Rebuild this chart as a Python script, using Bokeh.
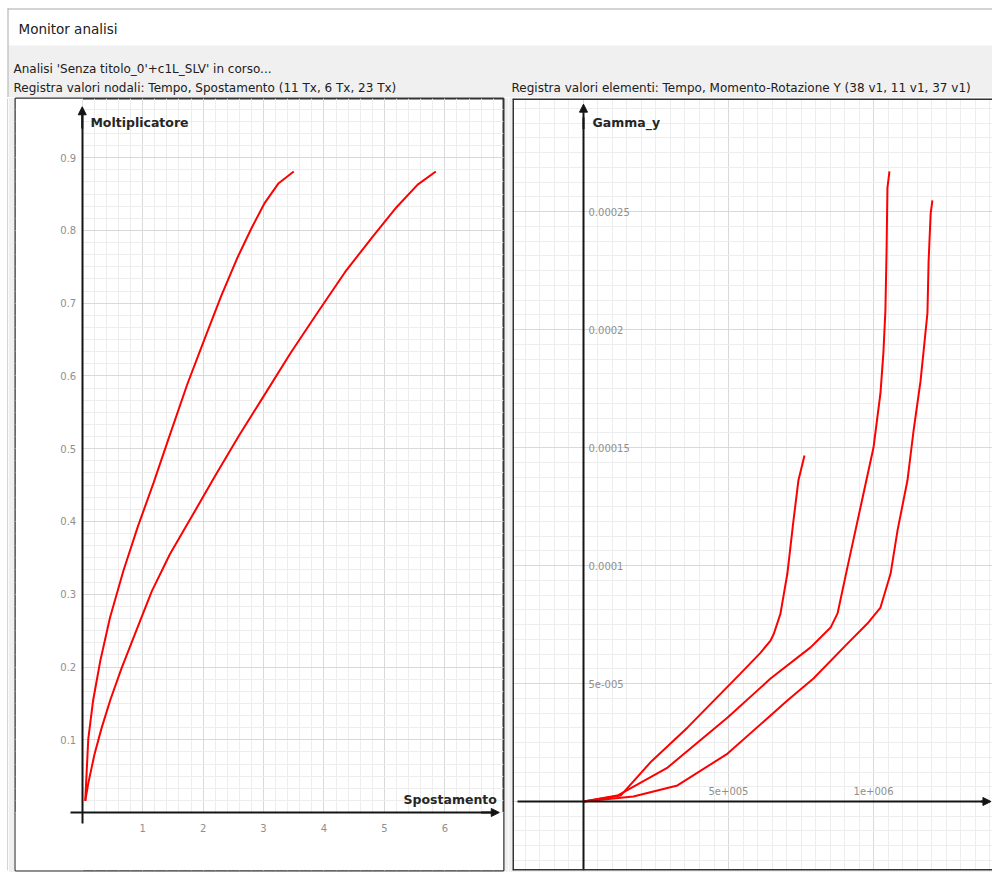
from bokeh.plotting import figure
from bokeh.models import (LinearAxis, Grid, FixedTicker, Label, Arrow, NormalHead,
                          BoxAnnotation, Range1d, Span)
from bokeh.layouts import column, row
from bokeh.embed import file_html
from bokeh.resources import INLINE
import numpy as np

# ---------------- data ----------------
window_title = "Monitor analisi"
status_text = "Analisi 'Senza titolo_0'+c1L_SLV' in corso..."
left_header = "Registra valori nodali: Tempo, Spostamento (11 Tx, 6 Tx, 23 Tx)"
right_header = "Registra valori elementi: Tempo, Momento-Rotazione Y (38 v1, 11 v1, 37 v1)"

left_x_title = "Spostamento"
left_y_title = "Moltiplicatore"
right_y_title = "Gamma_y"

# nodal curves (Spostamento, Moltiplicatore)
node_a_x = [0.05, 0.07, 0.10, 0.18, 0.30, 0.46, 0.68, 0.92, 1.18, 1.45, 1.74, 2.02, 2.30,
            2.57, 2.80, 3.02, 3.25, 3.50]
node_a_y = [0.016, 0.050, 0.101, 0.154, 0.209, 0.268, 0.332, 0.393, 0.453, 0.519, 0.589,
            0.650, 0.710, 0.763, 0.803, 0.838, 0.865, 0.881]
node_b_x = [0.05, 0.10, 0.20, 0.32, 0.47, 0.65, 0.88, 1.15, 1.45, 1.80, 2.20, 2.60, 3.00,
            3.45, 3.90, 4.35, 4.80, 5.20, 5.55, 5.85]
node_b_y = [0.016, 0.040, 0.079, 0.116, 0.156, 0.198, 0.247, 0.304, 0.355, 0.405, 0.463,
            0.519, 0.572, 0.632, 0.688, 0.743, 0.791, 0.832, 0.863, 0.881]

# element curves (Momento, Gamma_y)
elem_1_x = [0, 1.28e5, 2.31e5, 3.59e5, 5.41e5, 6.10e5, 6.45e5, 6.56e5, 6.79e5, 7.03e5,
            7.24e5, 7.41e5, 7.62e5]
elem_1_y = [0, 2.5e-6, 1.66e-5, 3.14e-5, 5.42e-5, 6.30e-5, 6.82e-5, 7.10e-5, 7.95e-5,
            9.66e-5, 1.19e-4, 1.36e-4, 1.466e-4]
elem_2_x = [0, 1.17e5, 2.90e5, 4.97e5, 6.45e5, 7.83e5, 8.07e5, 8.52e5, 8.76e5, 9.10e5,
            9.55e5, 1.0e6, 1.024e6, 1.034e6, 1.041e6, 1.045e6, 1.048e6, 1.055e6]
elem_2_y = [0, 2.5e-6, 1.44e-5, 3.56e-5, 5.21e-5, 6.53e-5, 6.82e-5, 7.37e-5, 7.97e-5,
            9.92e-5, 1.246e-4, 1.50e-4, 1.73e-4, 1.90e-4, 2.08e-4, 2.33e-4, 2.60e-4, 2.67e-4]
elem_3_x = [0, 1.72e5, 3.24e5, 4.97e5, 7.03e5, 7.93e5, 9.10e5, 9.79e5, 1.024e6, 1.059e6,
            1.083e6, 1.117e6, 1.138e6, 1.162e6, 1.172e6, 1.186e6, 1.19e6, 1.197e6, 1.203e6]
elem_3_y = [0, 2.1e-6, 6.8e-6, 2.03e-5, 4.28e-5, 5.21e-5, 6.69e-5, 7.54e-5, 8.22e-5,
            9.66e-5, 1.15e-4, 1.36e-4, 1.57e-4, 1.78e-4, 1.90e-4, 2.07e-4, 2.29e-4, 2.49e-4,
            2.547e-4]

left_x_ticks = [1, 2, 3, 4, 5, 6]
left_x_labels = ["1", "2", "3", "4", "5", "6"]
left_y_ticks = [0.1, 0.2, 0.3, 0.4, 0.5, 0.6, 0.7, 0.8, 0.9]
left_y_labels = ["0.1", "0.2", "0.3", "0.4", "0.5", "0.6", "0.7", "0.8", "0.9"]
right_x_ticks = [500000.0, 1000000.0]
right_x_labels = ["5e+005", "1e+006"]
right_y_ticks = [5e-05, 0.0001, 0.00015, 0.0002, 0.00025]
right_y_labels = ["5e-005", "0.0001", "0.00015", "0.0002", "0.00025"]

# ---------------- style ----------------
FONT = "DejaVu Sans"
GRAY_BG = "#f0f0f0"
WIN_EDGE = "#aaaaaa"
AXIS_C = "#141414"
TICK_C = "#8f8f8f"
TITLE_C = "#262626"
FRAME_C = "#333333"
MAJOR_GRID = "#d9d9d9"
MINOR_GRID = "#ededed"
RED = "#ff0000"
PANEL_H = 775

# ---------------- header (window chrome, pixel space) ----------------
hdr = figure(width=992, height=97, x_range=Range1d(0, 992), y_range=Range1d(97, 0),
             toolbar_location=None, output_backend="svg", min_border=0,
             x_axis_location=None, y_axis_location=None,
             background_fill_color="white", border_fill_color="white",
             outline_line_color=None)
hdr.xgrid.visible = False
hdr.ygrid.visible = False
hdr.add_layout(BoxAnnotation(left=8, right=992, top=45, bottom=97, fill_color=GRAY_BG,
                             fill_alpha=1, line_color=None, level="underlay"))
hdr.add_layout(BoxAnnotation(left=7, right=992, top=8, bottom=9, fill_color=WIN_EDGE,
                             fill_alpha=1, line_color=None, level="underlay"))
hdr.add_layout(BoxAnnotation(left=7, right=8, top=8, bottom=97, fill_color=WIN_EDGE,
                             fill_alpha=1, line_color=None, level="underlay"))
hdr.add_layout(Label(x=18, y=28, text=window_title, text_font=FONT,
                     text_font_size="13.5px", text_baseline="middle", text_color="#202020"))
hdr.add_layout(Label(x=13, y=68, text=status_text, text_font=FONT,
                     text_font_size="12px", text_baseline="middle", text_color="#202020"))
hdr.add_layout(Label(x=13, y=87, text=left_header, text_font=FONT,
                     text_font_size="12px", text_baseline="middle", text_color="#202020"))
hdr.add_layout(Label(x=511, y=87, text=right_header, text_font=FONT,
                     text_font_size="12px", text_baseline="middle", text_color="#202020"))

# thin strip with the window's left edge
edge = figure(width=8, height=PANEL_H, x_range=Range1d(0, 8), y_range=Range1d(0, 1),
              toolbar_location=None, output_backend="svg", min_border=0,
              x_axis_location=None, y_axis_location=None,
              background_fill_color="white", border_fill_color="white",
              outline_line_color=None)
edge.xgrid.visible = False
edge.ygrid.visible = False
edge.add_layout(BoxAnnotation(left=7, right=8, fill_color=WIN_EDGE, fill_alpha=1,
                              line_color=None, level="underlay"))


def make_panel(width, xr, yr, bl, br, outline=True):
    p = figure(width=width, height=PANEL_H, x_range=Range1d(*xr), y_range=Range1d(*yr),
               toolbar_location=None, output_backend="svg",
               x_axis_location=None, y_axis_location=None,
               min_border_left=bl, min_border_right=br, min_border_top=1, min_border_bottom=2,
               background_fill_color="white", border_fill_color=GRAY_BG,
               outline_line_color=FRAME_C if outline else None, outline_line_width=2)
    p.xgrid.visible = False
    p.ygrid.visible = False
    return p


def add_grid(p, dim, major, minor):
    g = Grid(dimension=dim, ticker=FixedTicker(ticks=list(major), minor_ticks=list(minor)),
             grid_line_color=MAJOR_GRID, grid_line_width=1,
             minor_grid_line_color=MINOR_GRID, minor_grid_line_width=1, level="image")
    p.add_layout(g)


def style_axis(ax, ticks, labels, standoff):
    ax.ticker = FixedTicker(ticks=ticks)
    ax.major_label_overrides = dict(zip(ticks, labels))
    ax.axis_line_color = AXIS_C
    ax.axis_line_width = 2
    ax.major_tick_line_color = None
    ax.minor_tick_line_color = None
    ax.major_tick_out = 0
    ax.major_tick_in = 0
    ax.minor_tick_out = 0
    ax.minor_tick_in = 0
    ax.major_label_text_color = TICK_C
    ax.major_label_text_font = FONT
    ax.major_label_text_font_size = "10px"
    ax.major_label_standoff = standoff


def title_label(x, y, text, align="left"):
    return Label(x=x, y=y, text=text, text_font=FONT, text_font_size="12.5px",
                 text_font_style="bold", text_color=TITLE_C, text_baseline="middle",
                 text_align=align)


def arrow(x0, y0, x1, y1):
    return Arrow(end=NormalHead(size=8, fill_color=AXIS_C, line_color=AXIS_C),
                 x_start=x0, y_start=y0, x_end=x1, y_end=y1,
                 line_color=AXIS_C, line_width=2)


# ---------------- left panel ----------------
lx_range = (-1.104, 6.97)
ly_range = (-0.0797, 0.9814)
lp = make_panel(500, lx_range, ly_range, 7, 5)
add_grid(lp, 0, np.arange(0, 8, 1.0), np.arange(0, 7.2, 0.2))
add_grid(lp, 1, np.arange(0, 1.01, 0.1), np.arange(0, 1.0, 0.1 / 6))
# grid only in the positive quadrant
lp.add_layout(BoxAnnotation(right=0, fill_color="white", fill_alpha=1, line_color=None,
                            level="underlay"))
lp.add_layout(BoxAnnotation(top=0, fill_color="white", fill_alpha=1, line_color=None,
                            level="underlay"))

lyax = LinearAxis(fixed_location=0, bounds=(-0.015, 0.962))
style_axis(lyax, left_y_ticks, left_y_labels, 6)
lp.add_layout(lyax, "left")
lxax = LinearAxis(fixed_location=0, bounds=(-0.2, 6.85))
style_axis(lxax, left_x_ticks, left_x_labels, 11)
lp.add_layout(lxax, "below")

lp.add_layout(arrow(0, 0.94, 0, 0.970))
lp.add_layout(arrow(6.6, 0, 6.9, 0))

lp.line(node_b_x, node_b_y, line_color=RED, line_width=2)
lp.line(node_a_x, node_a_y, line_color=RED, line_width=2)

lp.add_layout(title_label(0.135, 0.948, left_y_title))
lp.add_layout(title_label(6.86, 0.018, left_x_title, "right"))

# ---------------- right panel (cut off at the window's right edge) ----------------
rx_range = (-2.448e5, 1.4103e6)
ry_range = (-2.924e-5, 2.979e-4)
rp = make_panel(484, rx_range, ry_range, 4, 0, outline=False)
add_grid(rp, 0, np.arange(-5e5, 1.6e6, 5e5), np.arange(-3e5, 1.45e6, 5e4))
add_grid(rp, 1, np.arange(-5e-5, 3.01e-4, 5e-5), np.arange(-3.125e-5, 3.0e-4, 6.25e-6))
rp.add_layout(Span(location=rx_range[0], dimension="height", line_color=FRAME_C,
                   line_width=3))
rp.add_layout(Span(location=ry_range[1], dimension="width", line_color=FRAME_C,
                   line_width=3))
rp.add_layout(Span(location=ry_range[0], dimension="width", line_color=FRAME_C,
                   line_width=3))

ryax = LinearAxis(fixed_location=0, bounds=(ry_range[0], 2.90e-4))
style_axis(ryax, right_y_ticks, right_y_labels, 5)
rp.add_layout(ryax, "right")
rxax = LinearAxis(fixed_location=0, bounds=(-2.28e5, 1.39e6))
style_axis(rxax, right_x_ticks, right_x_labels, 6)
rp.add_layout(rxax, "above")

rp.add_layout(arrow(0, 2.85e-4, 0, 2.955e-4))
rp.add_layout(arrow(1.37e6, 0, 1.405e6, 0))

rp.line(elem_1_x, elem_1_y, line_color=RED, line_width=2)
rp.line(elem_2_x, elem_2_y, line_color=RED, line_width=2)
rp.line(elem_3_x, elem_3_y, line_color=RED, line_width=2)

rp.add_layout(title_label(3.1e4, 2.877e-4, right_y_title))

layout = column(hdr, row(edge, lp, rp))
open("out.html", "w").write(file_html(layout, INLINE))
